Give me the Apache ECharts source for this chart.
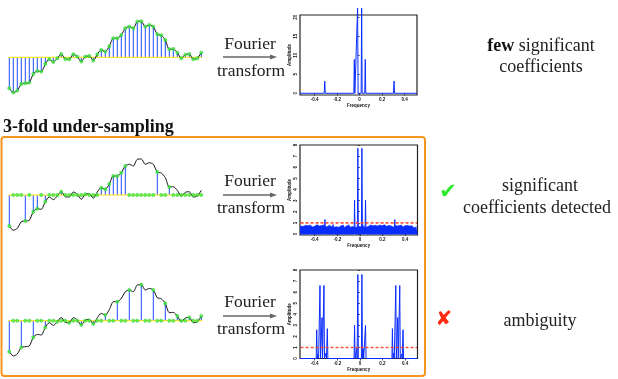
<!DOCTYPE html>
<html>
<head>
<meta charset="utf-8">
<script src="https://cdn.jsdelivr.net/npm/echarts@6/dist/echarts.min.js"></script>
<style>
  html, body { margin: 0; padding: 0; background: #ffffff; }
  #chart { width: 618px; height: 379px; }
</style>
</head>
<body>
<div id="chart"></div>
<script>
// Time-domain signal, one value per sample (49 samples)
const signal = [
  -3.10, -3.53, -3.33, -2.67, -2.60, -2.53, -1.67, -1.37, -1.43, -0.67,
  -0.20, -0.47, -0.10,  0.33, -0.17, -0.20,  0.30,  0.07, -0.43,  0.07,
   0.13, -0.33,  0.30,  0.73,  0.57,  1.10,  1.90,  1.90,  2.23,  2.90,
   3.07,  2.90,  3.57,  3.60,  3.07,  3.23,  3.07,  2.30,  2.20,  1.73,
   0.80,  0.83,  0.47, -0.10,  0.27,  0.33, -0.20, -0.10,  0.47
];

// Samples kept by the two 3-fold under-sampling schemes
const randomPicks = [0, 4, 6, 7, 9, 13, 19, 23, 24, 25, 26, 27, 28, 29, 37, 40];
const regularPicks = [0, 3, 6, 9, 12, 15, 18, 21, 24, 27, 30, 33, 36, 39, 42, 45, 48];

// Spectrum of the fully sampled signal
const fullPeakFreq = [-0.310, -0.047, -0.030, -0.018, 0.018, 0.030, 0.050, 0.306];
const fullPeakAmp  = [  3.2,    8.9,    0.5,   22.4,  22.4,   0.5,   8.9,   3.2];

// Spectrum after random under-sampling
const randPeakFreq = [-0.309, -0.047, -0.018, 0.018, 0.050, 0.309];
const randPeakAmp  = [  1.3,    3.05,   7.7,   7.7,   3.05,  1.3];
const randNoise = [
  0.70,0.62,0.78,0.66,0.74,0.58,0.80,0.69,0.63,0.76,
  0.71,0.60,0.83,0.67,0.72,0.59,0.77,0.65,0.81,0.62,
  0.74,0.68,0.57,0.79,0.70,0.64,0.86,0.61,0.73,0.66,
  0.78,0.60,0.71,0.75,0.63,0.80,0.58,0.69,0.74,0.65,
  0.82,0.61,0.72,0.67,0.77,0.59,0.70,0.64,0.79,0.68,
  0.73,0.62,0.84,0.66,0.71,0.60,0.76,0.69,0.63,0.81,
  0.67,0.74,0.58,0.78,0.65,0.72,0.61,0.80,0.68,0.75,
  0.62,0.83,0.66,0.70,0.59,0.77,0.64,0.73,0.69,0.61,
  0.79,0.67,0.72,0.58,0.76,0.65,0.81,0.63,0.70,0.74,
  0.60,0.78,0.66,0.71,0.62,0.75,0.68,0.57,0.73,0.64
];

// Spectrum after regular under-sampling (aliased copies)
const regPeakFreq = [-0.382, -0.370, -0.353, -0.335, -0.318, -0.300, -0.288,
                     -0.047, -0.029, -0.018, 0.018, 0.029, 0.050,
                      0.288,  0.300,  0.318,  0.335,  0.353,  0.370, 0.382];
const regPeakAmp  = [  2.6,   0.4,   6.6,   3.7,   6.6,   0.5,   2.7,
                       3.0,   0.9,   7.6,   7.6,   0.9,   3.0,
                       2.7,   0.5,   6.6,   3.7,   6.6,   0.4,   2.6];

// Detection threshold
const threshold = 1.0;

// Axis ticks
const freqTicks = [-0.4, -0.2, 0, 0.2, 0.4];
const fullAmpTicks = [0, 5, 10, 15, 20];
const subAmpTicks = [0, 1, 2, 3, 4, 5, 6, 7, 8];

const F_MIN = -0.53, F_MAX = 0.51;

// Narrow spikes on a zero baseline
function spikeLine(freqs, amps) {
  const w = 0.0045;
  const pts = [[F_MIN, 0]];
  freqs.forEach((f, i) => {
    pts.push([f - w, 0], [f, amps[i]], [f + w, 0]);
  });
  pts.push([F_MAX, 0]);
  return pts;
}

function noiseLine(vals) {
  const step = 1 / (vals.length - 1);
  const pts = vals.map((v, i) => [-0.5 + i * step, v]);
  pts.unshift([F_MIN, vals[0]]);
  pts.push([F_MAX, vals[vals.length - 1]]);
  return pts;
}

function stemRender(params, api) {
  const x = api.value(0), y = api.value(1);
  const p0 = api.coord([x, 0]);
  const p1 = api.coord([x, y]);
  return {
    type: 'line',
    shape: { x1: p0[0], y1: p0[1], x2: p1[0], y2: p1[1] },
    style: { stroke: '#1d4cff', lineWidth: 1 }
  };
}

const allIdx = signal.map((_, i) => i);

function signalSeries(k, picks) {
  const kept = picks ? allIdx.filter(i => picks.indexOf(i) >= 0) : allIdx;
  const dots = allIdx.map(i => [i, (!picks || picks.indexOf(i) >= 0) ? signal[i] : 0]);
  return [
    {
      type: 'custom', xAxisIndex: k, yAxisIndex: k, z: 1, silent: true,
      renderItem: stemRender,
      data: kept.map(i => [i, signal[i]])
    },
    {
      type: 'line', xAxisIndex: k, yAxisIndex: k, z: 2, silent: true,
      symbol: 'none', lineStyle: { color: '#ffe400', width: 1 },
      data: [[-0.3, 0], [48.3, 0]]
    },
    {
      type: 'line', xAxisIndex: k, yAxisIndex: k, z: 3, silent: true,
      symbol: 'none', smooth: 0.25,
      lineStyle: { color: '#111111', width: 1 },
      data: allIdx.map(i => [i, signal[i]])
    },
    {
      type: 'scatter', xAxisIndex: k, yAxisIndex: k, z: 4, silent: true,
      symbol: 'circle', symbolSize: 3.4,
      itemStyle: { color: '#3cf03c', borderColor: '#22b822', borderWidth: 0.4 },
      data: dots
    }
  ];
}

const sans = '"Liberation Sans", Arial, sans-serif';
const serif = '"Liberation Serif", "Times New Roman", serif';
const labelFont = { fontSize: 4.5, fontWeight: 'bold', color: '#111', fontFamily: sans };

function specAxes(k, yMin, yMax, yTicks) {
  const x = {
    type: 'value', gridIndex: k, min: F_MIN, max: F_MAX,
    name: 'Frequency', nameLocation: 'middle', nameGap: 8,
    nameTextStyle: labelFont,
    axisLine: { show: false },
    axisTick: { show: true, customValues: freqTicks, length: 2, lineStyle: { color: '#222', width: 0.8 } },
    axisLabel: { show: true, customValues: freqTicks, margin: 2.5, ...labelFont,
      formatter: v => (Math.abs(v) < 1e-9 ? '0' : v.toFixed(1)) },
    splitLine: { show: false }
  };
  const y = {
    type: 'value', gridIndex: k, min: yMin, max: yMax,
    name: 'Amplitude', nameLocation: 'middle', nameGap: 8,
    nameTextStyle: labelFont,
    axisLine: { show: false },
    axisTick: { show: true, customValues: yTicks, length: 2, lineStyle: { color: '#222', width: 0.8 } },
    axisLabel: { show: true, customValues: yTicks, margin: 2, rotate: 90, ...labelFont },
    splitLine: { show: false }
  };
  return [x, y];
}

const sigAxisX = k => ({ type: 'value', gridIndex: k, min: 0, max: 48, show: false });
const sigAxisY = k => ({ type: 'value', gridIndex: k, min: -4, max: 4, show: false });

const a3 = specAxes(3, -0.45, 20.6, fullAmpTicks);
const a4 = specAxes(4, -0.09, 8, subAmpTicks);
const a5 = specAxes(5, 0, 8, subAmpTicks);

const specLine = (k, data, clip) => ({
  type: 'line', xAxisIndex: k, yAxisIndex: k, z: 3, silent: true,
  symbol: 'none', clip: clip, lineStyle: { color: '#0a2dff', width: 1 },
  data: data
});

const thresholdLine = k => ({
  type: 'line', xAxisIndex: k, yAxisIndex: k, z: 5, silent: true,
  symbol: 'none',
  lineStyle: { color: '#ff3a22', width: 1.6, type: [3, 2], opacity: 0.85 },
  data: [[F_MIN + 0.005, threshold], [F_MAX - 0.005, threshold]]
});

function txt(text, x, y, size, weight, extra) {
  return { type: 'text', style: Object.assign({
    text: text, x: x, y: y, align: 'center', verticalAlign: 'middle',
    font: (weight || 'normal') + ' ' + size + 'px ' + serif, fill: '#222'
  }, extra || {}) };
}

function fourierLabel(yTop, yArrow, yBottom) {
  return [
    txt('Fourier', 250, yTop, 17.5),
    txt('transform', 251, yBottom, 17.5),
    { type: 'line', shape: { x1: 223, y1: yArrow, x2: 272, y2: yArrow },
      style: { stroke: '#666', lineWidth: 1.4 } },
    { type: 'polygon', shape: { points: [[277, yArrow], [270, yArrow - 2.5], [270, yArrow + 2.5]] },
      style: { fill: '#666' } }
  ];
}

const option = {
  backgroundColor: '#ffffff',
  animation: false,
  grid: [
    { left: 9.3, width: 192, top: 17.3, height: 80 },
    { left: 9.3, width: 192, top: 155, height: 80 },
    { left: 9.3, width: 192, top: 280.7, height: 80 },
    { left: 300, width: 117, top: 15, height: 80, show: true, borderColor: '#222', borderWidth: 1.2 },
    { left: 300, width: 117.5, top: 145, height: 90, show: true, borderColor: '#222', borderWidth: 1.2 },
    { left: 300, width: 117.5, top: 270, height: 88.5, show: true, borderColor: '#222', borderWidth: 1.2 }
  ],
  xAxis: [sigAxisX(0), sigAxisX(1), sigAxisX(2), a3[0], a4[0], a5[0]],
  yAxis: [sigAxisY(0), sigAxisY(1), sigAxisY(2), a3[1], a4[1], a5[1]],
  series: [
    ...signalSeries(0, null),
    ...signalSeries(1, randomPicks),
    ...signalSeries(2, regularPicks),
    specLine(3, spikeLine(fullPeakFreq, fullPeakAmp), false),
    {
      type: 'line', xAxisIndex: 4, yAxisIndex: 4, z: 2, silent: true,
      symbol: 'none', lineStyle: { color: '#0a2dff', width: 0.6 },
      areaStyle: { color: '#0a2dff', opacity: 1 },
      data: noiseLine(randNoise)
    },
    specLine(4, spikeLine(randPeakFreq, randPeakAmp), true),
    thresholdLine(4),
    specLine(5, spikeLine(regPeakFreq, regPeakAmp), true),
    thresholdLine(5)
  ],
  graphic: [
    ...fourierLabel(44, 57, 71),
    ...fourierLabel(181, 195, 208),
    ...fourierLabel(302, 316, 329),
    txt('3-fold under-sampling', 3, 127, 18, 'bold', { align: 'left', fill: '#111' }),
    { type: 'rect', shape: { x: 1.5, y: 137, width: 423.5, height: 239, r: 3 },
      style: { fill: 'none', stroke: '#f7961f', lineWidth: 2 } },
    txt('{b|few} significant', 541, 46, 18, 'normal', {
      rich: { b: { fontWeight: 'bold', fontFamily: serif, fontSize: 18, fill: '#111' } } }),
    txt('coefficients', 541, 67, 18),
    txt('significant', 540, 186, 18),
    txt('coefficients detected', 537, 208, 18),
    txt('ambiguity', 540, 321, 18),
    { type: 'text', style: { text: '\u2714', x: 448, y: 193, align: 'center', verticalAlign: 'middle',
      font: '21px "DejaVu Sans", sans-serif', fill: '#2ee82e' } },
    { type: 'text', style: { text: '\u2718', x: 444, y: 320, align: 'center', verticalAlign: 'middle',
      font: '20px "DejaVu Sans", sans-serif', fill: '#ff2a10' } }
  ]
};

const chart = echarts.init(document.getElementById('chart'), null, { renderer: 'canvas', width: 618, height: 379 });
chart.setOption(option);
</script>
</body>
</html>
